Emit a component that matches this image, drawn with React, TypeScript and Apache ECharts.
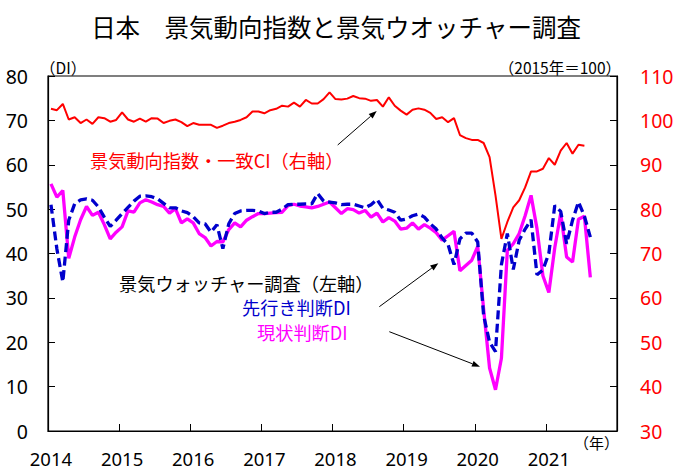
import React, { useEffect, useRef } from "react";
import * as echarts from "echarts";

const years = ["2014", "2015", "2016", "2017", "2018", "2019", "2020", "2021"];
const months: string[] = [];
years.forEach((y) => {
  for (let m = 1; m <= 12; m++) months.push(`${y}/${m}`);
});

// 景気動向指数・一致CI (2015=100), Jan 2014 – Jul 2021
const ciValues = [
  102.6, 102.3, 103.7, 100.2, 100.7, 99.4, 100.2, 99.2, 100.7, 100.5, 99.7, 100.1,
  101.8, 100.2, 99.7, 100.4, 99.7, 100.5, 100.4, 99.4, 99.9, 100.2, 99.6, 98.7,
  99.4, 99.0, 99.0, 99.0, 98.3, 98.8, 99.4, 99.7, 100.1, 100.7, 102.0, 102.0,
  101.6, 102.3, 102.6, 103.3, 103.1, 104.0, 103.1, 104.6, 103.8, 103.8, 104.8, 106.3,
  104.8, 104.7, 104.9, 105.5, 105.0, 104.9, 104.4, 104.6, 103.1, 105.2, 103.3, 102.2,
  101.3, 102.4, 102.7, 102.4, 101.7, 100.3, 100.7, 99.6, 100.5, 96.7, 96.0, 95.6,
  95.6, 94.9, 91.7, 83.1, 73.3, 77.1, 80.4, 82.0, 84.9, 88.5, 88.5, 89.1,
  91.5, 90.0, 93.2, 94.9, 92.5, 94.5, 94.3,
];

// 景気ウォッチャー 先行き判断DI, Jan 2014 – Aug 2021
const outlookDI = [
  51.0, 41.0, 33.6, 47.5, 51.2, 52.1, 52.3, 52.0, 50.5, 48.2, 46.1, 47.5,
  49.0, 50.4, 51.8, 52.9, 53.0, 52.8, 52.3, 51.3, 50.3, 50.3, 49.6, 49.2,
  48.3, 46.9, 46.7, 44.8, 46.5, 41.1, 46.7, 49.0, 49.6, 49.7, 49.7, 49.6,
  49.0, 49.3, 49.3, 50.0, 51.0, 51.1, 51.1, 51.2, 51.2, 53.5, 51.8, 51.6,
  51.4, 51.0, 51.1, 51.1, 50.7, 50.3, 51.0, 52.2, 50.2, 49.8, 49.3, 47.5,
  47.8, 48.5, 48.9, 48.2, 46.7, 45.5, 43.5, 42.0, 37.5, 43.3, 44.6, 44.6,
  42.6, 26.0, 20.0, 17.9, 37.5, 44.5, 36.4, 43.0, 45.5, 47.6, 35.2, 36.3,
  40.0, 50.8, 49.5, 42.2, 47.5, 51.6, 48.4, 43.7,
];

// 景気ウォッチャー 現状判断DI, Jan 2014 – Aug 2021
const currentDI = [
  55.7, 52.7, 54.2, 38.9, 43.7, 47.6, 50.6, 48.6, 49.3, 46.5, 43.3, 44.8,
  46.0, 49.6, 49.3, 51.4, 52.1, 51.6, 51.0, 50.6, 49.1, 50.1, 46.9, 47.8,
  46.9, 44.5, 43.6, 41.7, 42.7, 42.6, 45.4, 46.9, 46.0, 47.5, 48.3, 49.0,
  49.0, 49.1, 49.2, 49.3, 50.8, 51.1, 50.7, 50.5, 50.3, 50.6, 51.1, 51.6,
  50.3, 49.0, 50.1, 49.9, 49.1, 49.7, 48.2, 49.1, 47.1, 48.1, 47.3, 45.5,
  45.7, 46.9, 45.5, 46.5, 45.7, 44.7, 43.0, 44.0, 45.0, 36.1, 37.3, 38.5,
  41.6, 27.4, 14.2, 9.3, 16.4, 40.7, 42.2, 44.5, 48.5, 53.1, 45.6, 35.0,
  31.2, 41.3, 49.0, 39.2, 38.1, 47.7, 48.4, 34.6,
];

const JP = "'Noto Sans CJK JP', 'Noto Sans', sans-serif";
const NUM = "'Noto Sans', 'Noto Sans CJK JP', sans-serif";

function arrow(x1: number, y1: number, x2: number, y2: number) {
  const ang = Math.atan2(y2 - y1, x2 - x1);
  const L = 8;
  const W = 3;
  const bx = x2 - L * Math.cos(ang);
  const by = y2 - L * Math.sin(ang);
  const px = -Math.sin(ang) * W;
  const py = Math.cos(ang) * W;
  return [
    {
      type: "line",
      shape: { x1, y1, x2: bx, y2: by },
      style: { stroke: "#000", lineWidth: 1 },
      silent: true,
    },
    {
      type: "polygon",
      shape: {
        points: [
          [x2, y2],
          [bx + px, by + py],
          [bx - px, by - py],
        ],
      },
      style: { fill: "#000" },
      silent: true,
    },
  ];
}

function txt(text: string, x: number, y: number, fill: string, fontSize: number, align = "left", family = JP) {
  return {
    type: "text",
    x,
    y,
    silent: true,
    style: {
      text,
      fill,
      fontSize,
      fontFamily: family,
      align,
      verticalAlign: "middle",
    },
  };
}

export default function App() {
  const ref = useRef<HTMLDivElement>(null);
  useEffect(() => {
    if (!ref.current) return;
    const chart = echarts.init(ref.current, undefined, { renderer: "svg" });
    chart.setOption({
      animation: false,
      backgroundColor: "#fff",
      grid: {
        left: 48,
        right: 61,
        top: 76,
        bottom: 40,
        show: true,
        borderColor: "#000",
        borderWidth: 1.2,
        containLabel: false,
      },
      xAxis: {
        type: "category",
        data: months,
        boundaryGap: true,
        axisLine: { show: true, lineStyle: { color: "#000", width: 1.2 } },
        axisTick: { show: true, inside: true, interval: 11, length: 7, alignWithLabel: false, lineStyle: { color: "#000" } },
        axisLabel: {
          interval: 11,
          formatter: (v: string) => v.split("/")[0],
          color: "#000",
          fontSize: 18.5,
          lineHeight: 18.5,
          fontFamily: NUM,
          margin: 18,
        },
        splitLine: { show: false },
      },
      yAxis: [
        {
          type: "value",
          min: 0,
          max: 80,
          interval: 10,
          axisLine: { show: true, lineStyle: { color: "#000", width: 1.2 } },
          axisTick: { show: true, inside: true, length: 7, lineStyle: { color: "#000" } },
          axisLabel: { color: "#000", fontSize: 19.5, fontFamily: NUM, margin: 20 },
          splitLine: { show: false },
        },
        {
          type: "value",
          position: "right",
          min: 30,
          max: 110,
          interval: 10,
          axisLine: { show: true, lineStyle: { color: "#000", width: 1.2 } },
          axisTick: { show: true, inside: true, length: 7, lineStyle: { color: "#000" } },
          axisLabel: { color: "#FF0000", fontSize: 19.5, fontFamily: NUM, margin: 23 },
          splitLine: { show: false },
        },
      ],
      series: [
        {
          name: "景気動向指数・一致CI",
          type: "line",
          yAxisIndex: 1,
          data: ciValues,
          symbol: "none",
          lineStyle: { color: "#FF0000", width: 2 },
        },
        {
          name: "現状判断DI",
          type: "line",
          yAxisIndex: 0,
          data: currentDI,
          symbol: "none",
          lineStyle: { color: "#FF00FF", width: 3.3 },
        },
        {
          name: "先行き判断DI",
          type: "line",
          yAxisIndex: 0,
          data: outlookDI,
          symbol: "none",
          lineStyle: { color: "#0000CC", width: 3.3, type: [9, 4.5] },
        },
      ],
      graphic: [
        txt("日本　景気動向指数と景気ウオッチャー調査", 336, 26, "#000", 24.5, "center"),
        txt("（DI）", 40, 67, "#000", 15.5),
        txt("（2015年＝100）", 621, 67, "#000", 15.5, "right"),
        txt("（年）", 619, 442, "#000", 15, "right"),
        txt("景気動向指数・一致CI（右軸）", 90, 160, "#FF0000", 18.2),
        txt("景気ウォッチャー調査（左軸）", 119, 283, "#000", 18.2),
        txt("先行き判断DI", 242, 307, "#0000CC", 18.2),
        txt("現状判断DI", 257, 332, "#FF00FF", 18.2),
        ...arrow(337.7, 145, 376.7, 111),
        ...arrow(379.3, 306.7, 438.3, 263.3),
        ...arrow(389.3, 331.7, 480, 366.7),
      ],
    });
    return () => chart.dispose();
  }, []);
  return <div ref={ref} style={{ width: 678, height: 471, position: "absolute", left: 0, top: 0 }} />;
}
